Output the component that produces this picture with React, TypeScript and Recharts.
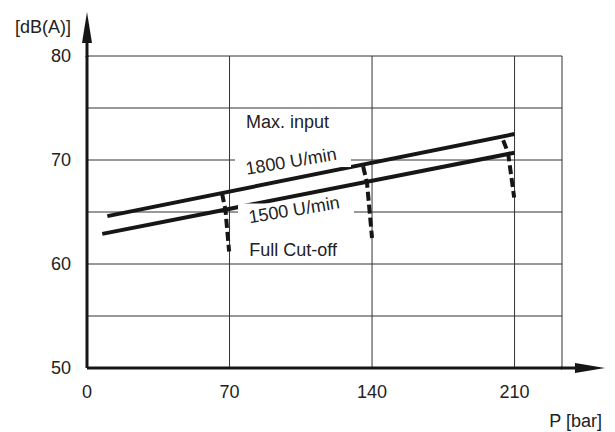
import React from 'react';
import { LineChart, Line, XAxis, YAxis, CartesianGrid, ReferenceDot } from 'recharts';

// Axis ticks (unlabelled ones only carry grid lines)
const pressureTicks = [0, 70, 140, 210, 233.3];
const levelTicks = [50, 55, 60, 65, 70, 75, 80];

// Sound pressure level at maximum input, per speed
const maxInput1800 = [
  { p: 10, db: 64.6 },
  { p: 210, db: 72.5 },
];
const maxInput1500 = [
  { p: 7.5, db: 62.9 },
  { p: 210, db: 70.7 },
];

// Drop towards full cut-off at each pressure setting
const cutoff70 = [
  { p: 66.3, db: 66.8 },
  { p: 68.0, db: 65.2 },
  { p: 69.8, db: 61.2 },
];
const cutoff140 = [
  { p: 135.6, db: 69.4 },
  { p: 137.5, db: 67.85 },
  { p: 140, db: 62.5 },
];
const cutoff210 = [
  { p: 204.4, db: 71.9 },
  { p: 206.8, db: 70.7 },
  { p: 209.8, db: 66.4 },
];

// Curve annotations, anchored in data units
const curveLabels = [
  { text: 'Max. input', p: 98.5, db: 73.7, angle: 0, boxed: false },
  { text: '1800 U/min', p: 100.2, db: 69.9, angle: -9.5, boxed: true },
  { text: '1500 U/min', p: 101.7, db: 65.24, angle: -9.5, boxed: true },
  { text: 'Full Cut-off', p: 101.2, db: 61.4, angle: 0, boxed: false },
];

const FONT = 'Liberation Sans, Arial, Helvetica, sans-serif';
const INK = '#161616';
const TEXT = '#222';

const CurveLabel = (props: any) => {
  const { cx, cy, text, angle, boxed } = props;
  return (
    <g>
      {boxed && <rect x={cx - 56} y={cy - 6} width={116} height={12} fill="#fff" />}
      <text
        x={cx}
        y={cy}
        dy="0.35em"
        textAnchor="middle"
        fontFamily={FONT}
        fontSize={18}
        fill={TEXT}
        transform={`rotate(${angle} ${cx} ${cy})`}
      >
        {text}
      </text>
    </g>
  );
};

const LevelAxisArrow = (props: any) => {
  const { x, y, width } = props.viewBox;
  const ax = x + width;
  return (
    <g>
      <line x1={ax} y1={y + 1} x2={ax} y2={y - 16} stroke={INK} strokeWidth={3} />
      <polygon points={`${ax - 5},${y - 13} ${ax + 5},${y - 13} ${ax},${y - 44}`} fill={INK} />
      <text x={ax - 16} y={y - 23} textAnchor="end" fontFamily={FONT} fontSize={18} fill={TEXT}>
        [dB(A)]
      </text>
    </g>
  );
};

const PressureAxisArrow = (props: any) => {
  const { x, y, width } = props.viewBox;
  const ex = x + width;
  return (
    <g>
      <line x1={ex - 1} y1={y} x2={ex + 16} y2={y} stroke={INK} strokeWidth={3} />
      <polygon points={`${ex + 13},${y - 5} ${ex + 13},${y + 5} ${ex + 43},${y}`} fill={INK} />
      <text x={ex + 40} y={y + 59} textAnchor="end" fontFamily={FONT} fontSize={18} fill={TEXT}>
        P [bar]
      </text>
    </g>
  );
};

export default function App() {
  return (
    <div style={{ position: 'absolute', left: 0, top: 0, width: 615, height: 432, background: '#fff' }}>
      <LineChart
        width={615}
        height={432}
        margin={{ top: 56, right: 53, bottom: 0, left: 0 }}
        style={{ fontFamily: FONT }}
      >
        <CartesianGrid stroke="#333" strokeWidth={1} />
        <XAxis
          type="number"
          dataKey="p"
          domain={[0, 233.3]}
          ticks={pressureTicks}
          tickFormatter={(v: number) => (v === 233.3 ? '' : String(v))}
          height={64}
          tickLine={false}
          tickSize={0}
          tickMargin={17}
          axisLine={{ stroke: INK, strokeWidth: 3 }}
          tick={{ fill: TEXT, fontSize: 18, fontFamily: FONT }}
          label={{ content: PressureAxisArrow }}
        />
        <YAxis
          type="number"
          dataKey="db"
          domain={[50, 80]}
          ticks={levelTicks}
          tickFormatter={(v: number) => (v % 10 === 0 ? String(v) : '')}
          width={87}
          tickLine={false}
          tickSize={0}
          tickMargin={16}
          axisLine={{ stroke: INK, strokeWidth: 3 }}
          tick={{ fill: TEXT, fontSize: 18, fontFamily: FONT }}
          label={{ content: LevelAxisArrow }}
        />
        {curveLabels.map((l) => (
          <ReferenceDot
            key={l.text}
            x={l.p}
            y={l.db}
            r={0}
            shape={(sp: any) => <CurveLabel {...sp} text={l.text} angle={l.angle} boxed={l.boxed} />}
          />
        ))}
        <Line data={maxInput1800} dataKey="db" type="linear" stroke={INK} strokeWidth={4} dot={false} activeDot={false} isAnimationActive={false} />
        <Line data={maxInput1500} dataKey="db" type="linear" stroke={INK} strokeWidth={4} dot={false} activeDot={false} isAnimationActive={false} />
        {[cutoff70, cutoff140, cutoff210].map((d, i) => (
          <Line
            key={i}
            data={d}
            dataKey="db"
            type="linear"
            stroke={INK}
            strokeWidth={4}
            strokeDasharray="9 4"
            dot={false}
            activeDot={false}
            isAnimationActive={false}
          />
        ))}
      </LineChart>
    </div>
  );
}
